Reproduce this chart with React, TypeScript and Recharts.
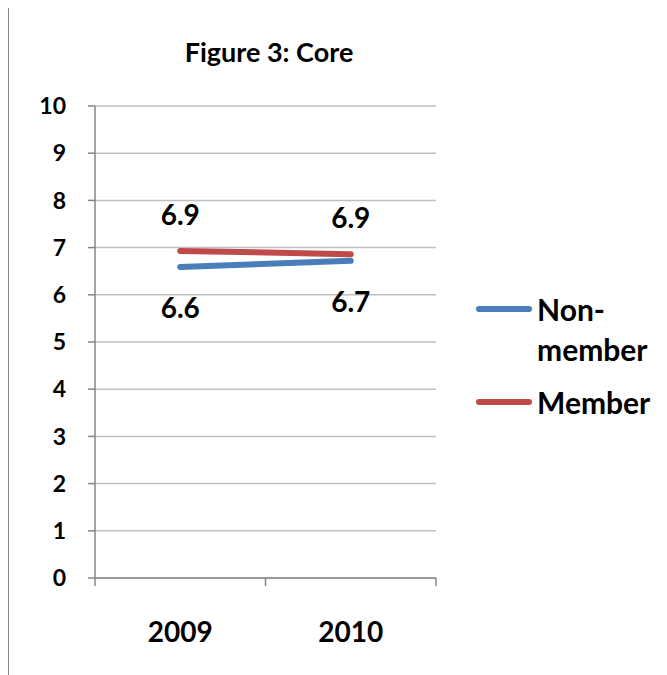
import React from "react";
import { LineChart, Line, XAxis, YAxis, CartesianGrid, Legend, LabelList } from "recharts";

// Core scores by year
const years = ["2009", "2010"];
const nonMember = [6.59, 6.72];
const member = [6.93, 6.86];
const yTicks = [0, 1, 2, 3, 4, 5, 6, 7, 8, 9, 10];
const seriesOrder = ["nonMember", "member"];

const BLUE = "#4A7EBB";
const RED = "#BE4B48";
const AXIS = "#868686";
const FONT = "Lato, 'Noto Sans', sans-serif";

// x runs on a numeric scale so the tick marks sit between categories (at 0, 1, 2)
// and the category labels sit in the middle of each band
const data = years.map((year, i) => ({
	year,
	pos: i + 0.5,
	nonMember: nonMember[i],
	member: member[i],
}));

const xTicks = [0, 0.5, 1, 1.5, 2];

function XTick(props: any) {
	const { x, y, payload } = props;
	const v = payload.value;
	if (Number.isInteger(v)) {
		return <line x1={x} y1={y} x2={x} y2={y + 8} stroke={AXIS} strokeWidth={1.5} />;
	}
	return (
		<text x={x} y={y + 64} textAnchor='middle' fontFamily={FONT} fontWeight={700} fontSize={28} fill='#000'>
			{years[Math.floor(v)]}
		</text>
	);
}

const labelAbove = (props: any) => {
	const { x, y, value } = props;
	return (
		<text x={x} y={y - 26} textAnchor='middle' fontFamily={FONT} fontWeight={700} fontSize={28} fill='#000'>
			{Number(value).toFixed(1)}
		</text>
	);
};

const labelBelow = (props: any) => {
	const { x, y, value } = props;
	return (
		<text x={x} y={y + 51} textAnchor='middle' fontFamily={FONT} fontWeight={700} fontSize={28} fill='#000'>
			{Number(value).toFixed(1)}
		</text>
	);
};

function LegendBox(props: any) {
	const { payload } = props;
	return (
		<div>
			{payload.map((item: any) => (
				<div key={item.value} style={{ display: "flex", alignItems: "flex-start", marginBottom: 13 }}>
					<div style={{ width: 56, height: 6, borderRadius: 3, background: item.color, marginTop: 17, marginRight: 5, flex: "none" }} />
					<div style={{ fontFamily: FONT, fontWeight: 700, fontSize: 30, lineHeight: "40px", color: "#000", maxWidth: 115 }}>{item.value}</div>
				</div>
			))}
		</div>
	);
}

export default function App() {
	return (
		<div
			style={{
				position: "relative",
				width: 659,
				height: 670,
				marginTop: -3,
				borderTop: `1px solid ${AXIS}`,
				borderLeft: `1px solid ${AXIS}`,
				overflow: "hidden",
			}}
		>
			<div
				style={{
					position: "absolute",
					left: 0,
					width: 520,
					top: 29,
					textAlign: "center",
					fontFamily: FONT,
					fontWeight: 700,
					fontSize: 27,
					color: "#000",
				}}
			>
				Figure 3: Core
			</div>
			<LineChart width={650} height={669} data={data} margin={{ top: 100, right: 223, left: 26, bottom: 37 }}>
				<CartesianGrid vertical={false} stroke='#BFBFBF' strokeWidth={1.5} />
				<XAxis
					dataKey='pos'
					type='number'
					domain={[0, years.length]}
					ticks={xTicks}
					interval={0}
					height={60}
					axisLine={{ stroke: AXIS, strokeWidth: 1.5 }}
					tickLine={false}
					tickSize={0}
					tickMargin={0}
					tick={<XTick />}
				/>
				<YAxis
					domain={[0, 10]}
					ticks={yTicks}
					interval={0}
					width={60}
					axisLine={{ stroke: AXIS, strokeWidth: 1.5 }}
					tickLine={{ stroke: AXIS, strokeWidth: 1.5 }}
					tickSize={7}
					tickMargin={22}
					tick={{ fontFamily: FONT, fontWeight: 700, fontSize: 23, fill: "#000" }}
				/>
				<Legend
					layout='vertical'
					align='center'
					verticalAlign='middle'
					itemSorter={(item: any) => seriesOrder.indexOf(item.dataKey)}
					content={<LegendBox />}
					wrapperStyle={{ position: "absolute", left: 467, top: 283, width: 190 }}
				/>
				<Line
					dataKey='nonMember'
					name='Non-member'
					stroke={BLUE}
					strokeWidth={6}
					strokeLinecap='round'
					dot={false}
					isAnimationActive={false}
				>
					<LabelList dataKey='nonMember' content={labelBelow} />
				</Line>
				<Line
					dataKey='member'
					name='Member'
					stroke={RED}
					strokeWidth={6}
					strokeLinecap='round'
					dot={false}
					isAnimationActive={false}
				>
					<LabelList dataKey='member' content={labelAbove} />
				</Line>
			</LineChart>
		</div>
	);
}
